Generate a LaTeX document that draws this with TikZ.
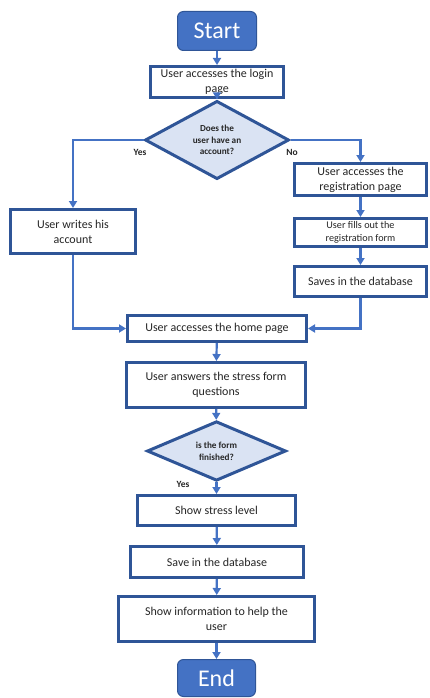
\documentclass[tikz,border=0pt]{standalone}
\usepackage{fontspec}
\setmainfont{Carlito}
\usetikzlibrary{shapes.geometric,arrows.meta}
\definecolor{edge}{HTML}{2F5597}
\definecolor{arr}{HTML}{4472C4}
\definecolor{dfill}{HTML}{DAE3F3}
\definecolor{txt}{HTML}{262626}
\begin{document}
\begin{tikzpicture}[x=1pt,y=-1pt,
  box/.style={draw=edge,line width=3pt,fill=white,text=txt,inner sep=1pt,align=center,font=\fontsize{12}{15}\selectfont},
  term/.style={draw=edge,line width=1pt,fill=arr,rounded corners=6pt,text=white,inner sep=0pt,font=\fontsize{24}{26}\selectfont},
  dec/.style={diamond,draw=edge,line width=3pt,fill=dfill,text=txt,inner sep=0pt,align=center,font=\fontsize{9.2}{11.7}\selectfont\bfseries},
  lab/.style={font=\fontsize{9.5}{11}\selectfont\bfseries,text=txt,inner sep=0pt},
  flow/.style={draw=arr,line width=2.2pt,-{Triangle[length=7pt,width=8pt]}}]
\useasboundingbox (0,0) rectangle (429,698);
\node[term,minimum width=79pt,minimum height=39pt] (start) at (217,31) {Start};
\node[box,minimum width=133pt,minimum height=31pt] (login) at (217,82) {User accesses the login\\page};
\node[dec,minimum width=144pt,minimum height=54pt] (d1) at (217,140) {Does the\\user have an\\account?};
\node[box,minimum width=125pt,minimum height=44pt] (writes) at (73,231.5) {User writes his\\account};
\node[box,minimum width=132pt,minimum height=32pt] (reg) at (360.5,179.5) {User accesses the\\registration page};
\node[box,minimum width=132pt,minimum height=28pt,font=\fontsize{10.2}{12.5}\selectfont] (fills) at (360.5,232.5) {User fills out the\\registration form};
\node[box,minimum width=132pt,minimum height=30pt] (saves) at (360.5,281.5) {Saves in the database};
\node[box,minimum width=179pt,minimum height=26pt] (home) at (217,328.5) {User accesses the home page};
\node[box,minimum width=179pt,minimum height=45pt] (stress) at (216,385) {User answers the stress form\\questions};
\node[dec,minimum width=139pt,minimum height=52pt] (d2) at (216.5,451) {is the form\\finished?};
\node[box,minimum width=158pt,minimum height=30pt] (show) at (216.5,510.5) {Show stress level};
\node[box,minimum width=173pt,minimum height=31pt] (savedb) at (217,562) {Save in the database};
\node[box,minimum width=196pt,minimum height=45pt] (info) at (216.5,619) {Show information to help the\\user};
\node[term,minimum width=78pt,minimum height=37pt] (end) at (216.5,678) {End};
\node[lab] (yes1) at (140,152) {Yes};
\node[lab] (no1) at (292,152) {No};
\node[lab] (yes2) at (183,484) {Yes};
\path[flow] (start) -- (login);
\path[flow] (login) -- (d1);
\path[flow] (d1.west) -| (writes.north);
\path[flow] (d1.east) -| (reg.north);
\path[flow] (reg) -- (fills);
\path[flow] (fills) -- (saves);
\path[flow] (writes.south) |- (home.west);
\path[flow] (saves.south) |- (home.east);
\path[flow] (home) -- (stress);
\path[flow] (stress) -- (d2);
\path[flow] (d2) -- (show);
\path[flow] (show) -- (savedb);
\path[flow] (savedb) -- (info);
\path[flow] (info) -- (end);
\end{tikzpicture}
\end{document}
